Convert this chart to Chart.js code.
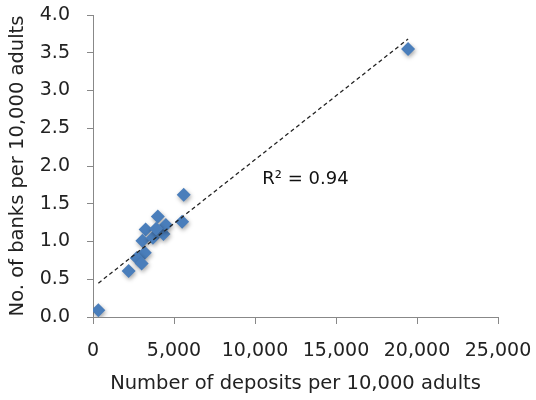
<!DOCTYPE html>
<html><head><meta charset="utf-8">
<script src="https://cdn.jsdelivr.net/npm/chart.js@4"></script>
<style>html,body{margin:0;padding:0;background:#fff}#w{width:536px;height:400px}</style>
</head><body><div id="w"><canvas id="c"></canvas></div>
<script>
const depositsPer10k = [330, 2200, 19450, 5600, 5500, 4000, 3250, 3050, 3700, 4350, 4500, 3900, 3200, 2700, 3000];
const banksPer10k    = [0.09, 0.61, 3.55, 1.62, 1.26, 1.33, 1.16, 1.01, 1.05, 1.10, 1.22, 1.17, 0.85, 0.78, 0.71];
const xTicks = [0, 5000, 10000, 15000, 20000, 25000];
const yTicks = [0, 0.5, 1, 1.5, 2, 2.5, 3, 3.5, 4];
const rSquaredLabel = 'R² = 0.94';

const pts = depositsPer10k.map((x, i) => ({x, y: banksPer10k[i]}));
// least-squares trendline
const n = pts.length;
const mx = depositsPer10k.reduce((a,b)=>a+b,0)/n, my = banksPer10k.reduce((a,b)=>a+b,0)/n;
let sxy=0, sxx=0; pts.forEach(p=>{sxy+=(p.x-mx)*(p.y-my); sxx+=(p.x-mx)**2;});
const slope = sxy/sxx, icpt = my - slope*mx;
const xmin = Math.min(...depositsPer10k), xmax = Math.max(...depositsPer10k);
const trend = [{x:xmin, y:icpt+slope*xmin},{x:xmax, y:icpt+slope*xmax}];

const font = "'DejaVu Sans', sans-serif";
const labelPlugin = {
  id:'rlabel',
  afterDatasetsDraw(chart){
    const {ctx, scales:{x,y}} = chart;
    ctx.save();
    ctx.font = '18px ' + font;
    ctx.fillStyle = '#111';
    ctx.textBaseline = 'middle';
    ctx.fillText(rSquaredLabel, x.getPixelForValue(10450), y.getPixelForValue(1.82));
    ctx.restore();
  }
};
const shadowPlugin = {
  id:'shadow',
  beforeDatasetDraw(chart, args){ if(args.index===1){ chart.ctx.save(); chart.ctx.shadowColor='rgba(0,0,0,0.35)'; chart.ctx.shadowBlur=4; chart.ctx.shadowOffsetX=1; chart.ctx.shadowOffsetY=2; } },
  afterDatasetDraw(chart, args){ if(args.index===1){ chart.ctx.restore(); } }
};
function zeroPad(s){ s.paddingLeft = 0; s.paddingRight = 0; s.paddingTop = 0; s.paddingBottom = 0; }

new Chart(document.getElementById('c'), {
  type:'scatter',
  data:{datasets:[
    {type:'line', data:trend, borderColor:'#222', borderWidth:1.3, borderDash:[4,3], pointRadius:0, fill:false},
    {data:pts, pointStyle:'rectRot', pointRadius:7, backgroundColor:'#4a7ebb', borderColor:'#4a7ebb', borderWidth:0}
  ]},
  options:{
    responsive:true, maintainAspectRatio:false, animation:false,
    layout:{padding:{top:15, right:38, left:4, bottom:0}},
    plugins:{legend:{display:false}, tooltip:{enabled:false}},
    scales:{
      x:{type:'linear', min:0, max:25000,
        afterBuildTicks(s){ s.ticks = xTicks.map(v=>({value:v})); },
        afterFit(s){ s.height = 83; zeroPad(s); },
        grid:{display:true, drawOnChartArea:false, drawTicks:true, tickLength:7, color:'#888'},
        border:{display:true, color:'#888'},
        ticks:{color:'#222', font:{family:font, size:19}, padding:16, maxRotation:0,
          callback:v=>v.toLocaleString('en-US')},
        title:{display:true, text:'Number of deposits per 10,000 adults', color:'#222', font:{family:font, size:19.5}, padding:{top:4}}
      },
      y:{min:0, max:4,
        afterBuildTicks(s){ s.ticks = yTicks.map(v=>({value:v})); },
        afterFit(s){ s.width = 89; zeroPad(s); },
        grid:{display:true, drawOnChartArea:false, drawTicks:true, tickLength:6, color:'#888'},
        border:{display:true, color:'#888'},
        ticks:{color:'#222', font:{family:font, size:19}, padding:17, callback:v=>v.toFixed(1)},
        title:{display:true, text:'No. of banks per 10,000 adults', color:'#222', font:{family:font, size:19.5}, padding:{top:2, bottom:0}}
      }
    }
  },
  plugins:[labelPlugin, shadowPlugin]
});
</script></body></html>
